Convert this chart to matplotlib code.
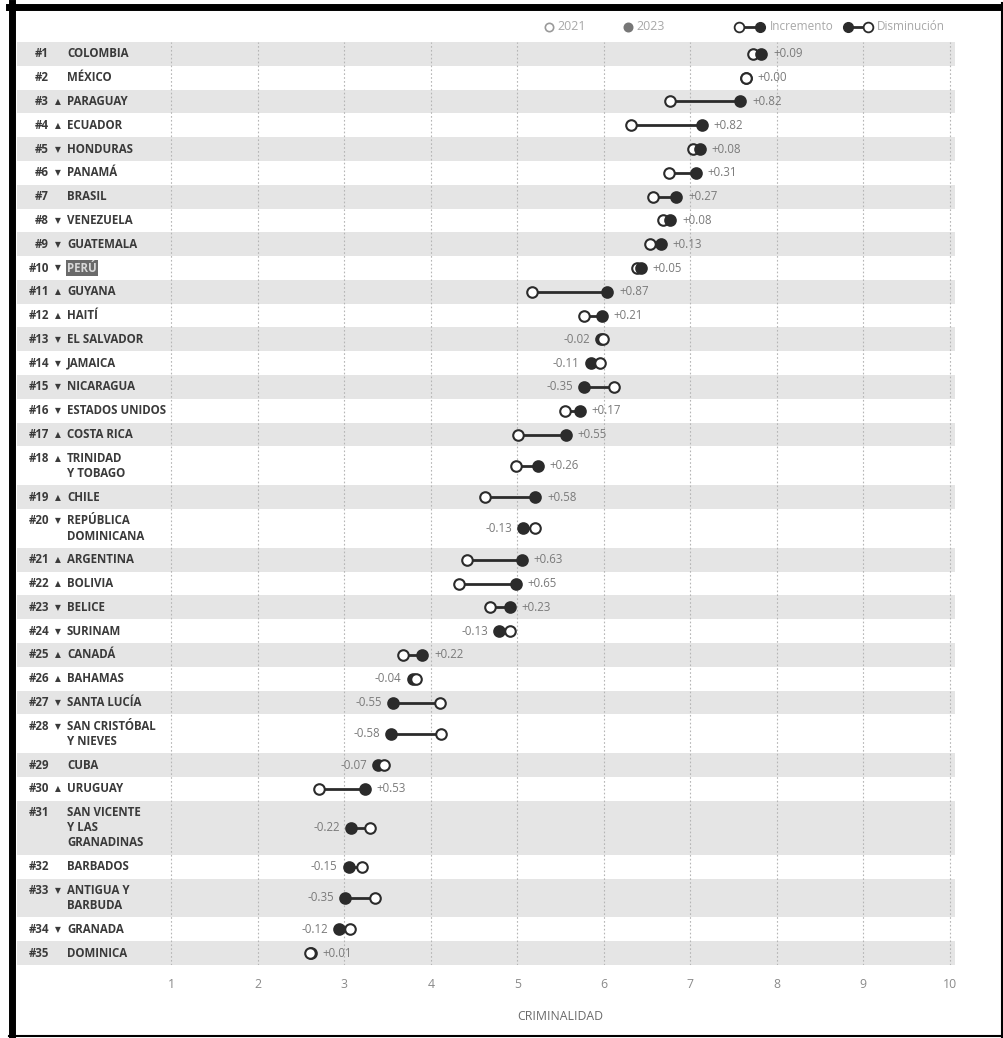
import matplotlib
matplotlib.use("Agg")
import matplotlib.pyplot as plt
from matplotlib.lines import Line2D

plt.rcParams['font.family'] = ['Open Sans', 'DejaVu Sans']

# ---------------- data ----------------
rank = list(range(1, 36))
trend = ['', '', 'up', 'up', 'down', 'down', '', 'down', 'down', 'down',
         'up', 'up', 'down', 'down', 'down', 'down', 'up', 'up', 'up', 'down',
         'up', 'up', 'down', 'down', 'up', 'up', 'down', 'down', '', 'up',
         '', '', 'down', 'down', '']
countries = ['COLOMBIA', 'MÉXICO', 'PARAGUAY', 'ECUADOR', 'HONDURAS', 'PANAMÁ',
             'BRASIL', 'VENEZUELA', 'GUATEMALA', 'PERÚ', 'GUYANA', 'HAITÍ',
             'EL SALVADOR', 'JAMAICA', 'NICARAGUA', 'ESTADOS UNIDOS', 'COSTA RICA',
             'TRINIDAD\nY TOBAGO', 'CHILE', 'REPÚBLICA\nDOMINICANA', 'ARGENTINA',
             'BOLIVIA', 'BELICE', 'SURINAM', 'CANADÁ', 'BAHAMAS', 'SANTA LUCÍA',
             'SAN CRISTÓBAL\nY NIEVES', 'CUBA', 'URUGUAY',
             'SAN VICENTE\nY LAS\nGRANADINAS', 'BARBADOS', 'ANTIGUA Y\nBARBUDA',
             'GRANADA', 'DOMINICA']
val_2021 = [7.73, 7.64, 6.76, 6.31, 7.03, 6.75, 6.57, 6.69, 6.53, 6.38,
            5.17, 5.77, 5.99, 5.96, 6.12, 5.55, 5.01, 4.98, 4.63, 5.20,
            4.42, 4.33, 4.68, 4.92, 3.68, 3.83, 4.11, 4.12, 3.46, 2.71,
            3.30, 3.20, 3.36, 3.06, 2.60]
val_2023 = [7.82, 7.64, 7.58, 7.13, 7.11, 7.06, 6.84, 6.77, 6.66, 6.43,
            6.04, 5.98, 5.97, 5.85, 5.77, 5.72, 5.56, 5.24, 5.21, 5.07,
            5.05, 4.98, 4.91, 4.79, 3.90, 3.79, 3.56, 3.54, 3.39, 3.24,
            3.08, 3.05, 3.01, 2.94, 2.61]
highlight = 'PERÚ'
x_ticks = [1, 2, 3, 4, 5, 6, 7, 8, 9, 10]
x_label = 'CRIMINALIDAD'

# ---------------- figure ----------------
W, H = 1004, 1038
fig = plt.figure(figsize=(W / 100, H / 100), dpi=100)

def fx(px):
    return px / W

def fy(py):
    return 1 - py / H

ax_left, ax_right, ax_top, ax_bottom = 17, 955, 42, 965
ax = fig.add_axes([fx(ax_left), fy(ax_bottom), fx(ax_right - ax_left), (ax_bottom - ax_top) / H])

LINE_EXTRA = 0.633
heights = [1 + LINE_EXTRA * (c.count('\n')) for c in countries]
tops = []
acc = 0
for h in heights:
    tops.append(acc)
    acc += h
total = acc

ax.set_xlim(-0.784, 10.06)
ax.set_ylim(total, 0)

# bands
for i, (t, h) in enumerate(zip(tops, heights)):
    if i % 2 == 0:
        ax.axhspan(t, t + h, color='#e5e5e5', lw=0, zorder=0)

# grid lines
for xt in x_ticks:
    ax.axvline(xt, color='#b5b5b5', lw=0.8, ls=(0, (1.5, 2)), zorder=1)

dark = '#2b2b2b'
ms = 7.6
for i in range(len(countries)):
    a, b = val_2021[i], val_2023[i]
    yl = tops[i] + heights[i] / 2
    ax.plot([a, b], [yl, yl], color=dark, lw=2, zorder=3, solid_capstyle='butt')
    open_top = (b < a) or abs(b - a) < 0.02
    z_open = 5 if open_top else 4
    z_fill = 4 if open_top else 5
    ax.plot(a, yl, 'o', ms=ms, mfc='white', mec=dark, mew=1.5, zorder=z_open)
    ax.plot(b, yl, 'o', ms=ms, mfc=dark, mec=dark, mew=1.5, zorder=z_fill)
    d = round(b - a, 2)
    lab = f"{d:+.2f}"
    if d >= 0:
        ax.annotate(lab, (max(a, b), yl), xytext=(8.5, 0), textcoords='offset points',
                    ha='left', va='center', fontsize=8.3, color='#7a7a7a', zorder=6)
    else:
        ax.annotate(lab, (min(a, b), yl), xytext=(-8, 0), textcoords='offset points',
                    ha='right', va='center', fontsize=8.3, color='#7a7a7a', zorder=6)

    # labels
    lines = countries[i].split('\n')
    first = tops[i] + 0.5
    ax.text(-0.414, first, f"#{rank[i]}", ha='right', va='center', fontsize=8.3,
            fontweight='bold', color='#3a3a3a', zorder=6)
    if trend[i]:
        ax.text(-0.31, first, '▲' if trend[i] == 'up' else '▼', ha='center', va='center',
                fontsize=5.5, color='#3a3a3a', family='DejaVu Sans', zorder=6)
    for k, ln in enumerate(lines):
        kw = {}
        if countries[i] == highlight:
            kw['bbox'] = dict(boxstyle='square,pad=0.1', fc='#6a6a6a', ec='none')
            col = '#d8d8d8'
        else:
            col = '#3a3a3a'
        ax.text(-0.206, first + k * LINE_EXTRA, ln, ha='left', va='center', fontsize=8.3,
                fontweight='bold', color=col, zorder=6, **kw)

ax.set_xticks(x_ticks)
ax.set_xticklabels([str(t) for t in x_ticks], fontsize=8.8, color='#8a8a8a')
ax.tick_params(axis='x', length=0, pad=9)
ax.set_yticks([])
for s in ax.spines.values():
    s.set_visible(False)

fig.text(fx(85 + 86.5 * 5.5), fy(1016), x_label, ha='center', va='center',
         fontsize=8.8, color='#6a6a6a')

# legend (top)
ly = fy(27)
fig.add_artist(Line2D([fx(549)], [ly], marker='o', ms=6, mfc='white', mec='#9a9a9a', mew=1.2, ls=''))
fig.text(fx(557), ly, '2021', ha='left', va='center', fontsize=9, color='#a8a8a8')
fig.add_artist(Line2D([fx(628)], [ly], marker='o', ms=6, mfc='#777777', mec='#777777', mew=1.2, ls=''))
fig.text(fx(636), ly, '2023', ha='left', va='center', fontsize=9, color='#a8a8a8')

fig.add_artist(Line2D([fx(739), fx(760)], [ly, ly], color=dark, lw=2))
fig.add_artist(Line2D([fx(739)], [ly], marker='o', ms=7, mfc='white', mec=dark, mew=1.3, ls=''))
fig.add_artist(Line2D([fx(760)], [ly], marker='o', ms=7, mfc=dark, mec=dark, ls=''))
fig.text(fx(770), ly, 'Incremento', ha='left', va='center', fontsize=8.5, color='#a8a8a8')

fig.add_artist(Line2D([fx(848), fx(868)], [ly, ly], color=dark, lw=2))
fig.add_artist(Line2D([fx(848)], [ly], marker='o', ms=7, mfc=dark, mec=dark, ls=''))
fig.add_artist(Line2D([fx(868)], [ly], marker='o', ms=7, mfc='white', mec=dark, mew=1.3, ls=''))
fig.text(fx(877), ly, 'Disminución', ha='left', va='center', fontsize=8.5, color='#a8a8a8')

# scan frame
fig.add_artist(Line2D([fx(12.5), fx(12.5)], [fy(3), fy(1037)], color='black', lw=5))
fig.add_artist(Line2D([fx(9), fx(1003)], [fy(6.5), fy(6.5)], color='black', lw=5))
fig.add_artist(Line2D([fx(1002), fx(1002)], [fy(3), fy(1037)], color='black', lw=1.5))
fig.add_artist(Line2D([fx(9), fx(1003)], [fy(1036), fy(1036)], color='black', lw=1.5))

fig.savefig('out.png', dpi=100, facecolor='white')
